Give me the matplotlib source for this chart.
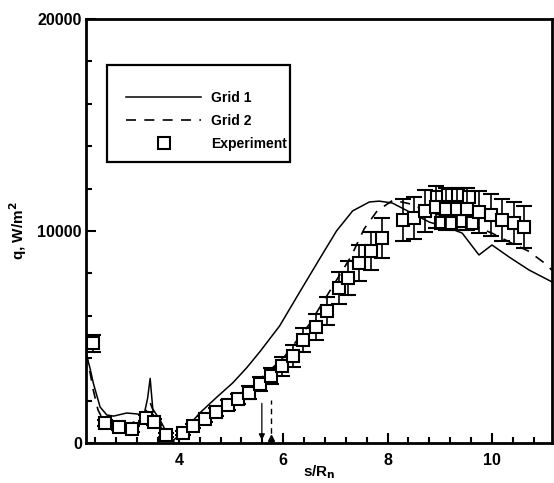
import numpy as np
import matplotlib
matplotlib.use("Agg")
import matplotlib.pyplot as plt
from matplotlib.lines import Line2D
from matplotlib.patches import Rectangle
from matplotlib.ticker import MultipleLocator

plt.rcParams['font.family'] = ['Liberation Sans', 'DejaVu Sans']
plt.rcParams['font.weight'] = 'bold'

# Grid 1 (solid)
g1_x = [2.22, 2.30, 2.36, 2.49, 2.62, 2.75, 3.00, 3.20, 3.33, 3.40, 3.45, 3.50,
        3.64, 3.77, 3.89, 4.08, 4.40, 4.73, 5.03, 5.30, 5.55, 5.93, 6.31, 6.70,
        7.02, 7.33, 7.65, 7.84, 8.09, 8.42, 8.80, 9.18, 9.43, 9.56, 9.75, 10.00,
        10.33, 10.71, 11.15]
g1_y = [4250, 3500, 2830, 1700, 1320, 1270, 1415, 1370, 1300, 2100, 3050, 1600,
        1085, 470, 120, 520, 1415, 2170, 2830, 3550, 4300, 5520, 7100, 8700,
        10000, 10950, 11370, 11410, 11320, 10900, 10420, 10140, 9900, 9480, 8870, 9340,
        8770, 8160, 7600]

# Grid 2 (dashed)
g2_x = [2.22, 2.30, 2.36, 2.45, 2.55, 2.70, 2.90, 3.10, 3.30, 3.45, 3.60, 3.75,
        3.90, 4.10, 4.50, 5.00, 5.50, 6.00, 6.50, 7.00, 7.30, 7.55, 7.80, 8.10,
        8.40, 8.80, 9.20, 9.60, 10.00, 10.40, 10.70, 11.00, 11.15]
g2_y = [4250, 3300, 2500, 1560, 1085, 950, 900, 950, 1150, 1900, 950, 400,
        80, 450, 1200, 2000, 2900, 4000, 5600, 7600, 8800, 10100, 10950, 11450,
        11300, 10900, 10600, 10300, 9900, 9400, 9050, 8500, 8150]

# Experiment
exp_x = [2.35, 2.58, 2.85, 3.10, 3.37, 3.52, 3.75, 4.07, 4.27, 4.50, 4.71, 4.94,
         5.13, 5.35, 5.56, 5.77, 5.98, 6.19, 6.38, 6.62, 6.83, 7.06, 7.25, 7.46,
         7.69, 7.90, 8.30, 8.50, 8.72, 8.92, 9.12, 9.32, 9.52, 9.75, 9.98, 10.20,
         10.42, 10.62]
exp_y = [4700, 950, 760, 660, 1180, 990, 380, 470, 800, 1130, 1460, 1790,
         2080, 2380, 2780, 3160, 3630, 4100, 4860, 5470, 6230, 7310, 7780, 8490,
         9060, 9670, 10520, 10610, 10940, 11130, 11040, 11040, 11040, 10900, 10750, 10520,
         10380, 10190]
exp_err = [400, 150, 150, 150, 150, 150, 100, 100, 100, 150, 200, 250,
           250, 300, 350, 400, 450, 500, 550, 600, 650, 750, 800, 850,
           900, 950, 1000, 1000, 1000, 1000, 1000, 1000, 1000, 1000, 1000, 1000,
           1000, 1000]
# repeated runs near the peak
rep_x = [8.95, 9.15, 9.35, 9.55, 9.02, 9.22, 9.42, 9.62]
rep_y = [11600, 11700, 11700, 11600, 10400, 10400, 10450, 10400]

# transition markers
trans_x = [5.59, 5.76]

fig = plt.figure(figsize=(5.54, 4.83), dpi=100)
ax = fig.add_axes([0.1552, 0.0828, 0.8412, 0.8778])

ax.plot(g1_x, g1_y, color='k', lw=1.1, zorder=2)
ax.plot(g2_x, g2_y, color='k', lw=1.2, dashes=(6, 5), zorder=2)

ax.errorbar(exp_x, exp_y, yerr=exp_err, fmt='s', ms=8.5, mfc='white', mec='k',
            mew=1.5, ecolor='k', elinewidth=1.2, capsize=6, capthick=1.5, zorder=4)
ax.plot(rep_x, rep_y, 's', ms=8.5, mfc='white', mec='k', mew=1.5, zorder=3)

# transition arrows
ax.annotate('', xy=(trans_x[0], 0), xytext=(trans_x[0], 2000),
            arrowprops=dict(arrowstyle='-|>', color='k', lw=0.9, mutation_scale=9))
ax.plot([trans_x[1], trans_x[1]], [0, 2050], color='k', lw=1.0, dashes=(4, 3))
ax.plot([trans_x[1]], [250], marker='^', color='k', ms=5)

ax.set_xlim(2.22, 11.15)
ax.set_ylim(0, 20000)
ax.xaxis.set_major_locator(MultipleLocator(2))
ax.xaxis.set_minor_locator(MultipleLocator(0.4))
ax.yaxis.set_major_locator(MultipleLocator(10000))
ax.yaxis.set_minor_locator(MultipleLocator(2000))
ax.tick_params(which='both', direction='in', width=1.5, labelsize=11.5)
ax.tick_params(which='major', length=7)
ax.tick_params(which='minor', length=4)
ax.tick_params(axis='x', pad=7)
ax.tick_params(axis='y', pad=3)
for s in ax.spines.values():
    s.set_linewidth(2)

ax.set_xlabel('s/R$_\\mathbf{n}$', fontsize=11, fontweight='bold', labelpad=-3)
ax.set_ylabel('q, W/m$^\\mathbf{2}$', fontsize=11, fontweight='bold', labelpad=6)

# legend box
ax.add_patch(Rectangle((0.045, 0.663), 0.393, 0.229, transform=ax.transAxes,
                       fill=False, ec='k', lw=1.6, zorder=5))
handles = [Line2D([], [], color='k', lw=1.1),
           Line2D([], [], color='k', lw=1.2, dashes=(6, 5)),
           Line2D([], [], ls='none', marker='s', ms=8.5, mfc='white', mec='k', mew=1.5)]
ax.legend(handles, ['Grid 1', 'Grid 2', 'Experiment'], loc='upper left',
          bbox_to_anchor=(0.086, 0.83), frameon=False, handlelength=5.4,
          handletextpad=0.75, labelspacing=0.65, borderaxespad=0, borderpad=0,
          prop={'size': 10, 'weight': 'bold'})

fig.savefig('out.png', dpi=100)
